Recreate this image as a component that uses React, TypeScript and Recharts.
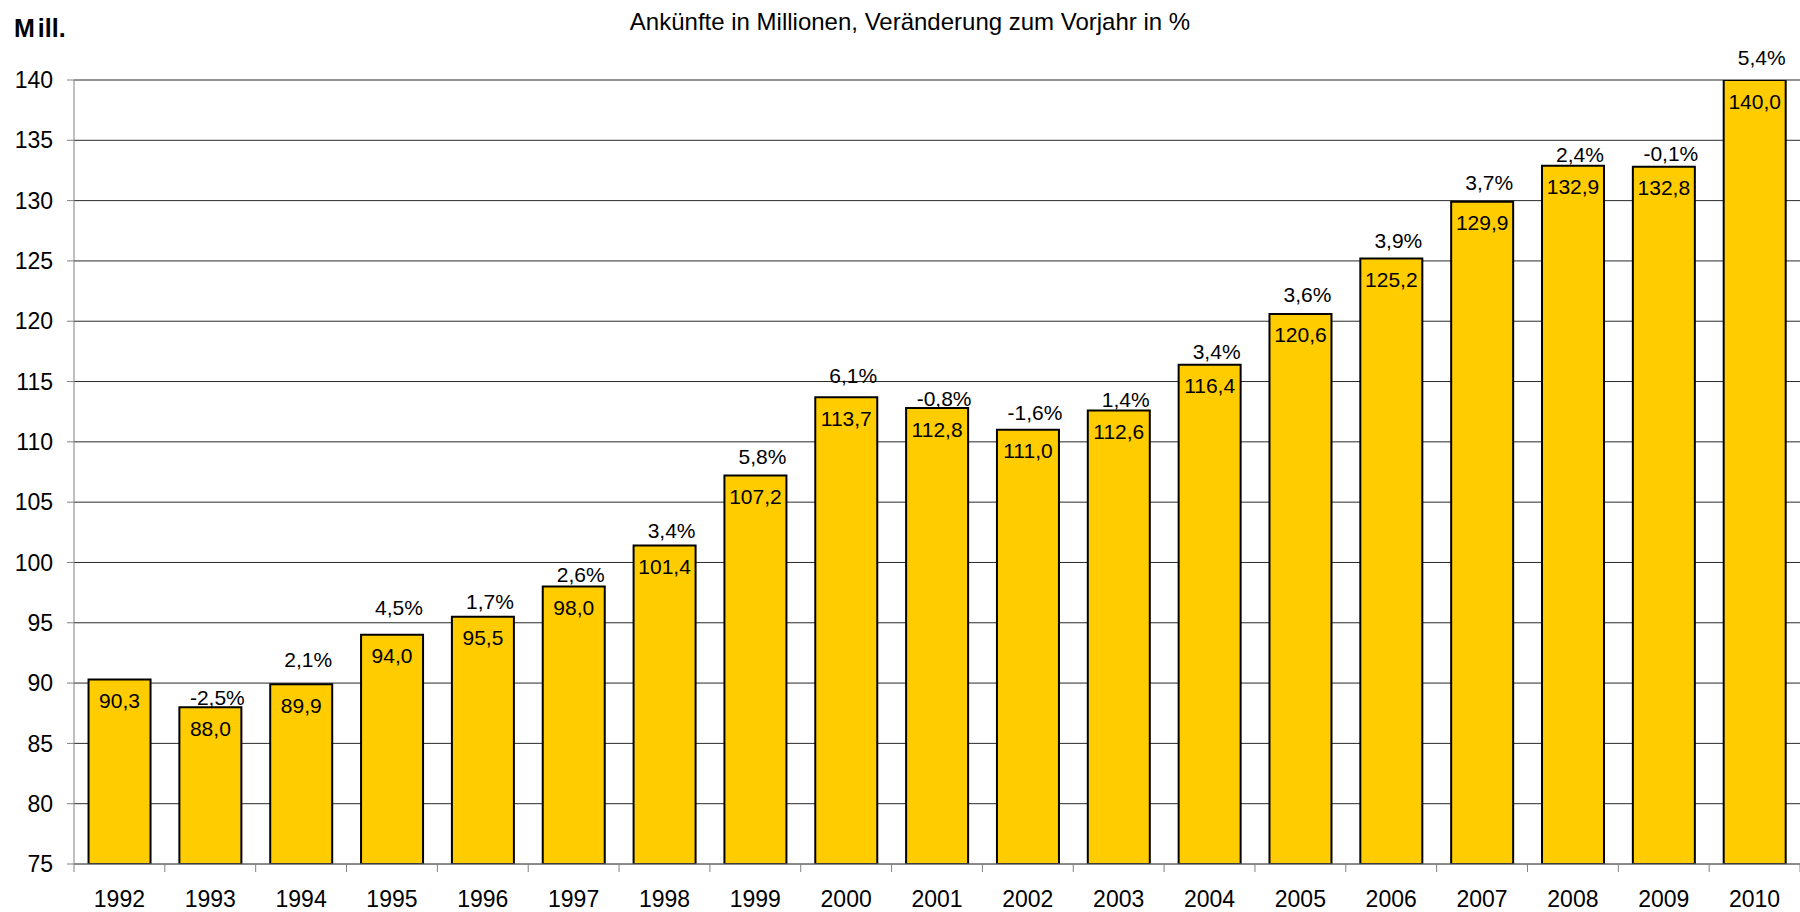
import React from "react";
import {
  BarChart,
  Bar,
  XAxis,
  YAxis,
  CartesianGrid,
  LabelList,
} from "recharts";

const years = [
  "1992", "1993", "1994", "1995", "1996", "1997", "1998", "1999", "2000",
  "2001", "2002", "2003", "2004", "2005", "2006", "2007", "2008", "2009", "2010",
];
const arrivals = [
  90.3, 88.0, 89.9, 94.0, 95.5, 98.0, 101.4, 107.2, 113.7, 112.8, 111.0,
  112.6, 116.4, 120.6, 125.2, 129.9, 132.9, 132.8, 140.0,
];
const changes = [
  null, -2.5, 2.1, 4.5, 1.7, 2.6, 3.4, 5.8, 6.1, -0.8, -1.6, 1.4, 3.4, 3.6,
  3.9, 3.7, 2.4, -0.1, 5.4,
];
const yTicks = [75, 80, 85, 90, 95, 100, 105, 110, 115, 120, 125, 130, 135, 140];

const data = years.map((year, i) => ({
  year,
  value: arrivals[i],
  change: changes[i],
}));

const W = 1800;
const H = 912;
const LEFT = 74;
const TOP = 80;
const BOTTOM = 48;
const FONT = "'Liberation Sans', Arial, sans-serif";

// the % labels were placed by hand in the original, so each sits a bit differently above its bar
const pctLift = [0, 10, 25, 27, 15, 12, 15, 19, 22, 10, 17, 11, 13, 19, 18, 19, 11, 13, 23];

const fmt = (v: number) => v.toFixed(1).replace(".", ",");

// value inside bar, near its top
const ValueLabel = (props: any) => {
  const { x, y, width, value } = props;
  return (
    <text
      x={x + width / 2}
      y={y + 21}
      textAnchor="middle"
      dominantBaseline="central"
      fontSize={21}
      fontFamily={FONT}
      fill="#000"
    >
      {fmt(value)}
    </text>
  );
};

// change to previous year, above the bar
const ChangeLabel = (props: any) => {
  const { x, y, width, index } = props;
  const c = changes[index];
  if (c === null || c === undefined) return null;
  return (
    <text
      x={x + width / 2 + 7}
      y={y - pctLift[index]}
      textAnchor="middle"
      dominantBaseline="central"
      fontSize={21}
      fontFamily={FONT}
      fill="#000"
    >
      {fmt(c) + "%"}
    </text>
  );
};

const step = (W - LEFT) / years.length;

// year label at center, tick marks at the category borders
const YearTick = (props: any) => {
  const { x, y, payload, index } = props;
  return (
    <g>
      <line x1={x - step / 2} y1={y - 8} x2={x - step / 2} y2={y} stroke="#808080" />
      {index === years.length - 1 && (
        <line x1={x + step / 2} y1={y - 8} x2={x + step / 2} y2={y} stroke="#808080" />
      )}
      <text
        x={x}
        y={y + 27}
        textAnchor="middle"
        dominantBaseline="central"
        fontSize={23}
        fontFamily={FONT}
        fill="#000"
      >
        {payload.value}
      </text>
    </g>
  );
};

export default function App() {
  return (
    <div style={{ position: "absolute", left: 0, top: 0, width: W, height: H, background: "#fff" }}>
      <BarChart
        width={W}
        height={H}
        data={data}
        margin={{ top: TOP, right: 0, left: 0, bottom: 0 }}
        barCategoryGap="16%"
      >
        <text x={910} y={21} textAnchor="middle" dominantBaseline="central" fontSize={24} fontFamily={FONT} fill="#000">
          Ankünfte in Millionen, Veränderung zum Vorjahr in %
        </text>
        <text x={14} y={28} dominantBaseline="central" fontSize={25} fontWeight="bold" fontFamily={FONT} fill="#000">
          M<tspan dx={3}>ill.</tspan>
        </text>
        <CartesianGrid vertical={false} stroke="#2a2a2a" strokeWidth={1} />
        <XAxis
          dataKey="year"
          height={BOTTOM}
          tickLine={false}
          axisLine={{ stroke: "#808080" }}
          tick={<YearTick />}
          interval={0}
        />
        <YAxis
          width={LEFT}
          domain={[75, 140]}
          ticks={yTicks}
          allowDataOverflow
          tickSize={7}
          tickMargin={14}
          axisLine={{ stroke: "#808080" }}
          tickLine={{ stroke: "#808080" }}
          tick={{ fontSize: 23, fill: "#000", fontFamily: FONT }}
        />
        <Bar
          dataKey="value"
          fill="#FFCC00"
          stroke="#000"
          strokeWidth={2}
          isAnimationActive={false}
        >
          <LabelList dataKey="value" content={<ValueLabel />} />
          <LabelList dataKey="change" content={<ChangeLabel />} />
        </Bar>
      </BarChart>
    </div>
  );
}
